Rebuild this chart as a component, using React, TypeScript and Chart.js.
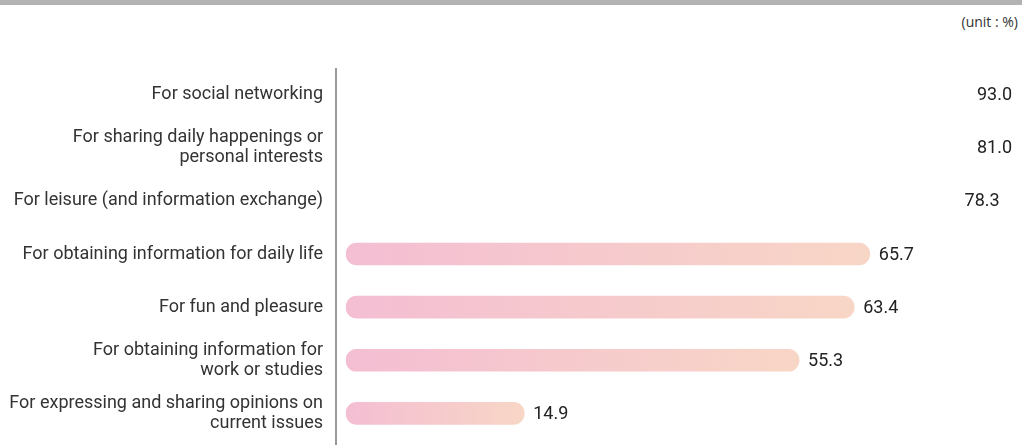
import React, { useEffect, useRef } from "react";
import { Chart, registerables } from "chart.js";

Chart.register(...registerables);

const categories: (string | string[])[] = [
  "For social networking",
  ["For sharing daily happenings or", "personal interests"],
  "For leisure (and information exchange)",
  "For obtaining information for daily life",
  "For fun and pleasure",
  ["For obtaining information for", "work or studies"],
  ["For expressing and sharing opinions on", "current issues"],
];
const values: number[] = [93.0, 81.0, 78.3, 65.7, 63.4, 55.3, 14.9];
// the top three bars are not drawn in the reference picture
const barShown: boolean[] = [false, false, false, true, true, true, true];
const unitLabel = "(unit : %)";

const AXIS_MIN = -11.3;
const AXIS_MAX = 86.6;
const FONT = 'Roboto, "Noto Sans", sans-serif';

export default function App() {
  const ref = useRef<HTMLCanvasElement | null>(null);

  useEffect(() => {
    document.body.style.margin = "0";
    const canvas = ref.current;
    if (!canvas) return;

    const valueLabels = {
      id: "valueLabels",
      afterDatasetsDraw(chart: any) {
        const { ctx, chartArea } = chart;
        const meta = chart.getDatasetMeta(0);
        ctx.save();
        ctx.font = "18px " + FONT;
        ctx.fillStyle = "#222222";
        ctx.textBaseline = "middle";
        ctx.textAlign = "left";
        meta.data.forEach((bar: any, i: number) => {
          const text = values[i].toFixed(1);
          const w = ctx.measureText(text).width;
          const x = Math.min(bar.x + 9, chartArea.right - w);
          ctx.fillText(text, x, bar.y + 1);
        });
        ctx.restore();
      },
    };

    const axisLine = {
      id: "axisLine",
      afterDraw(chart: any) {
        const { ctx } = chart;
        ctx.save();
        ctx.strokeStyle = "#9a9a9a";
        ctx.lineWidth = 2;
        ctx.beginPath();
        ctx.moveTo(336, 68);
        ctx.lineTo(336, chart.height);
        ctx.stroke();
        ctx.restore();
      },
    };

    const chart = new Chart(canvas, {
      type: "bar",
      data: {
        labels: categories,
        datasets: [
          {
            data: values,
            base: AXIS_MIN,
            barThickness: 22,
            borderRadius: 11,
            borderSkipped: false,
            backgroundColor: (c: any) => {
              const ch = c.chart;
              if (!ch.chartArea || c.type !== "data") return "rgba(0,0,0,0)";
              if (!barShown[c.dataIndex]) return "rgba(0,0,0,0)";
              const xs = ch.scales.x;
              const x0 = xs.getPixelForValue(AXIS_MIN);
              const x1 = xs.getPixelForValue(values[c.dataIndex]);
              const g = ch.ctx.createLinearGradient(x0, 0, x1, 0);
              g.addColorStop(0, "#f4bed3");
              g.addColorStop(1, "#f8d6c6");
              return g;
            },
          } as any,
        ],
      },
      options: {
        indexAxis: "y",
        animation: false,
        responsive: false,
        maintainAspectRatio: false,
        layout: { padding: { top: 68, bottom: 5, left: 0, right: 10 } },
        plugins: {
          legend: { display: false },
          tooltip: { enabled: false },
          title: { display: false },
        },
        scales: {
          x: {
            display: false,
            min: AXIS_MIN,
            max: AXIS_MAX,
            grid: { display: false },
          },
          y: {
            grid: { display: false, drawTicks: false },
            border: { display: false },
            ticks: {
              padding: 23,
              color: "#333333",
              font: { family: FONT, size: 18, lineHeight: 1.1 },
            },
            afterFit(scale: any) {
              scale.width = 346;
              scale.paddingTop = 0;
              scale.paddingBottom = 0;
            },
          },
        },
      },
      plugins: [valueLabels, axisLine],
    });

    return () => chart.destroy();
  }, []);

  return (
    <div style={{ position: "relative", width: 1022, height: 445, background: "#ffffff", overflow: "hidden" }}>
      <div style={{ position: "absolute", left: 0, top: 0, width: 1022, height: 5, background: "#b3b3b3" }} />
      <div
        style={{
          position: "absolute",
          right: 4,
          top: 13,
          fontFamily: '"Open Sans", "Noto Sans", sans-serif',
          fontSize: 14,
          color: "#333333",
          lineHeight: "18px",
        }}
      >
        {unitLabel}
      </div>
      <canvas ref={ref} width={1022} height={445} style={{ position: "absolute", left: 0, top: 0 }} />
    </div>
  );
}
